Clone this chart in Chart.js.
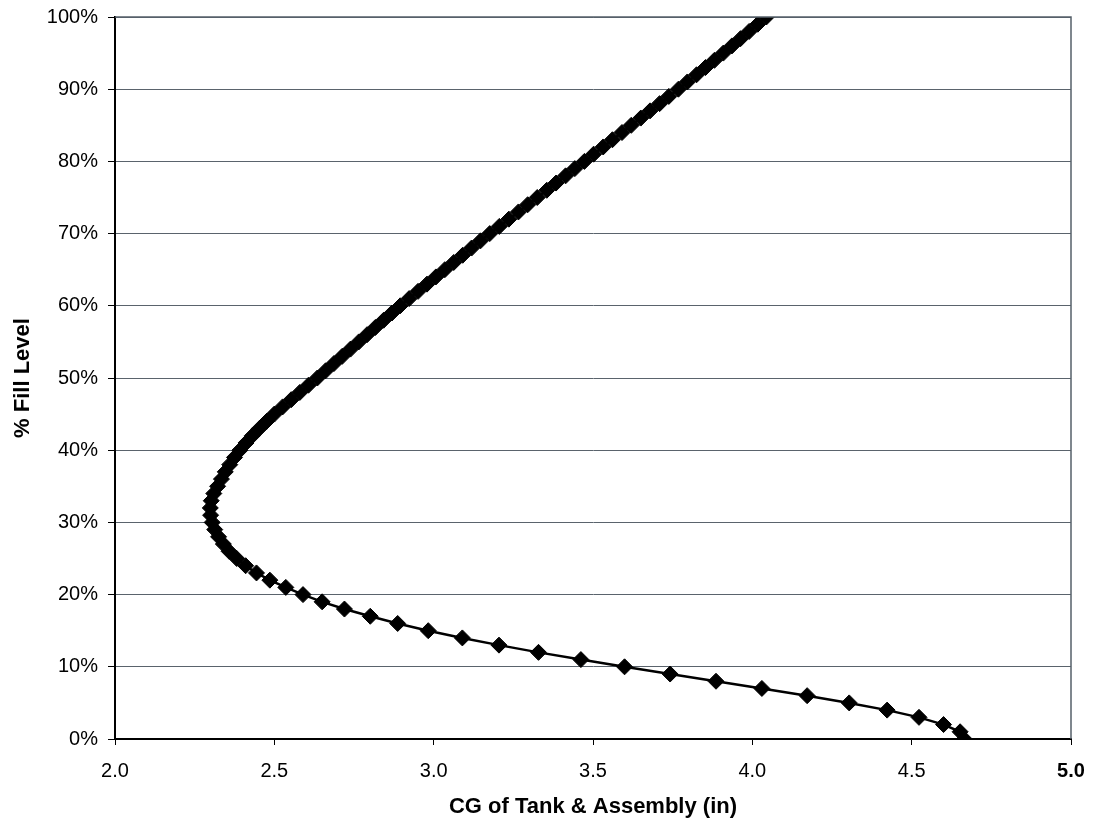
<!DOCTYPE html>
<html>
<head>
<meta charset="utf-8">
<script src="https://cdn.jsdelivr.net/npm/chart.js@4/dist/chart.umd.min.js"></script>
<style>
  html, body { margin: 0; padding: 0; background: #fff; }
  #wrap { width: 1094px; height: 824px; }
</style>
</head>
<body>
<div id="wrap"><canvas id="cg"></canvas></div>
<script>
// fill level, percent
const fillLevels = [
  0, 1, 2, 3, 4, 5, 6, 7, 8, 9,
  10, 11, 12, 13, 14, 15, 16, 17, 18, 19,
  20, 21, 22, 23, 24, 25, 26, 27, 28, 29,
  30, 31, 32, 33, 34, 35, 36, 37, 38, 39,
  40, 41, 42, 43, 44, 45, 46, 47, 48, 49,
  50, 51, 52, 53, 54, 55, 56, 57, 58, 59,
  60, 61, 62, 63, 64, 65, 66, 67, 68, 69,
  70, 71, 72, 73, 74, 75, 76, 77, 78, 79,
  80, 81, 82, 83, 84, 85, 86, 87, 88, 89,
  90, 91, 92, 93, 94, 95, 96, 97, 98, 99,
  100
];

// CG of tank & assembly (in) at each fill level
const cgInches = [
  4.665, 4.652, 4.600, 4.523, 4.423, 4.304, 4.172, 4.030, 3.886, 3.742,
  3.599, 3.462, 3.329, 3.205, 3.090, 2.983, 2.887, 2.801, 2.720, 2.650,
  2.590, 2.536, 2.486, 2.444, 2.410, 2.382, 2.358, 2.340, 2.325, 2.313,
  2.305, 2.300, 2.299, 2.302, 2.310, 2.322, 2.334, 2.346, 2.360, 2.375,
  2.392, 2.411, 2.431, 2.453, 2.476, 2.500, 2.526, 2.553, 2.580, 2.607,
  2.635, 2.661, 2.687, 2.713, 2.739, 2.765, 2.791, 2.817, 2.843, 2.869,
  2.895, 2.923, 2.951, 2.979, 3.007, 3.035, 3.063, 3.091, 3.119, 3.147,
  3.176, 3.206, 3.236, 3.266, 3.295, 3.325, 3.355, 3.384, 3.414, 3.443,
  3.473, 3.502, 3.532, 3.561, 3.591, 3.620, 3.650, 3.679, 3.709, 3.738,
  3.768, 3.796, 3.825, 3.853, 3.881, 3.909, 3.936, 3.963, 3.990, 4.017,
  4.044
];

const xTitle = 'CG of Tank & Assembly (in)';
const yTitle = '% Fill Level';

const FONT = '"Liberation Sans", Arial, sans-serif';

const points = cgInches.map((cg, i) => ({ x: cg, y: fillLevels[i] }));

// thin frame on the top and right of the plot
const frame = {
  id: 'frame',
  afterDraw(chart) {
    const { ctx, chartArea: { left, right, top, bottom } } = chart;
    ctx.save();
    ctx.strokeStyle = '#55606a';
    ctx.lineWidth = 1.5;
    ctx.beginPath();
    ctx.moveTo(left, top);
    ctx.lineTo(right, top);
    ctx.lineTo(right, bottom);
    ctx.stroke();
    ctx.restore();
  }
};

new Chart(document.getElementById('cg').getContext('2d'), {
  type: 'scatter',
  data: {
    datasets: [{
      data: points,
      showLine: true,
      borderColor: '#000',
      borderWidth: 2.5,
      backgroundColor: '#000',
      pointStyle: 'rectRot',
      pointRadius: 8,
      pointBorderWidth: 1,
      pointBorderColor: '#000',
      pointBackgroundColor: '#000',
      tension: 0
    }]
  },
  options: {
    responsive: true,
    maintainAspectRatio: false,
    animation: false,
    layout: { padding: { top: 17, right: 23, left: 0, bottom: 0 } },
    plugins: {
      legend: { display: false },
      tooltip: { enabled: false }
    },
    scales: {
      x: {
        type: 'linear',
        min: 2,
        max: 5,
        afterFit(scale) {
          scale.height = 85;
          scale.paddingLeft = 0;
          scale.paddingRight = 0;
        },
        ticks: {
          stepSize: 0.5,
          color: '#000',
          padding: 14,
          font: (c) => ({ family: FONT, size: 20, weight: c.tick && c.tick.value === 5 ? 'bold' : 'normal' }),
          callback: (v) => v.toFixed(1)
        },
        grid: {
          drawOnChartArea: false,
          drawTicks: true,
          tickLength: 6,
          color: '#000'
        },
        border: { color: '#000', width: 2 },
        title: {
          display: true,
          text: xTitle,
          color: '#000',
          font: { family: FONT, size: 22, weight: 'bold' },
          padding: { top: 2, bottom: 4 }
        }
      },
      y: {
        min: 0,
        max: 100,
        afterFit(scale) {
          scale.width = 115;
          scale.paddingTop = 0;
          scale.paddingBottom = 0;
        },
        ticks: {
          stepSize: 10,
          color: '#000',
          padding: 10,
          font: { family: FONT, size: 20 },
          callback: (v) => v + '%'
        },
        grid: {
          color: '#5a636c',
          lineWidth: 1,
          tickLength: 7,
          tickColor: '#000'
        },
        border: { color: '#000', width: 2 },
        title: {
          display: true,
          text: yTitle,
          color: '#000',
          font: { family: FONT, size: 22, weight: 'bold' },
          padding: { top: 10, bottom: 0 }
        }
      }
    }
  },
  plugins: [frame]
});
</script>
</body>
</html>
